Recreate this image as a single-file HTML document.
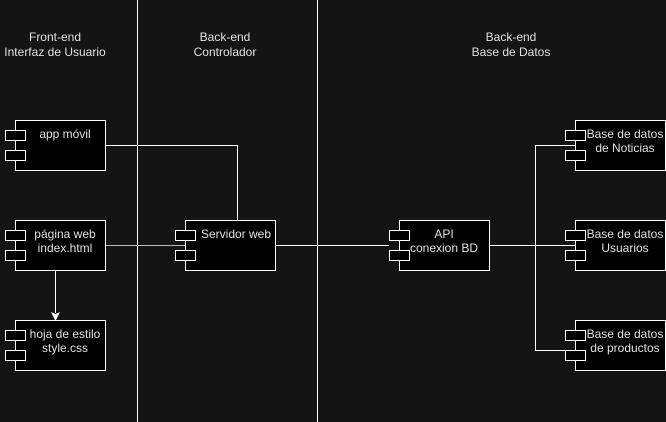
<!DOCTYPE html><html><head><style>html,body{margin:0;padding:0;background:#141414;overflow:hidden;width:666px;height:422px}svg{display:block}svg text{font-family:"Liberation Sans",sans-serif;font-size:12px;fill:#e0e0e0}</style></head><body>
<svg width="666" height="422" xmlns="http://www.w3.org/2000/svg">
<rect width="666" height="422" fill="#141414"/>
<g stroke="#fff" stroke-width="1" fill="none">
<line x1="137.5" y1="0" x2="137.5" y2="422"/>
<line x1="317.5" y1="0" x2="317.5" y2="422"/>
<polyline points="105,145.5 237.5,145.5 237.5,220"/>
<line x1="105" y1="245.5" x2="185" y2="245.5" stroke="#bbb"/>
<line x1="275" y1="245.5" x2="389" y2="245.5"/>
<line x1="489" y1="245.5" x2="575" y2="245.5"/>
<polyline points="575,145.5 535.5,145.5 535.5,350.5 575,350.5"/>
<line x1="55.5" y1="270" x2="55.5" y2="313"/>
</g>
<polygon points="51,312 55.5,321 60,312 55.5,314" fill="#fff"/>
<g stroke="#fff" stroke-width="1" fill="#000">
<rect x="15.5" y="120.5" width="90" height="50"/><rect x="5.5" y="130.5" width="20" height="10"/><rect x="5.5" y="150.5" width="20" height="10"/>
<rect x="15.5" y="220.5" width="90" height="50"/><rect x="5.5" y="230.5" width="20" height="10"/><rect x="5.5" y="250.5" width="20" height="10"/>
<rect x="15.5" y="320.5" width="90" height="50"/><rect x="5.5" y="330.5" width="20" height="10"/><rect x="5.5" y="350.5" width="20" height="10"/>
<rect x="185.5" y="220.5" width="90" height="50"/><rect x="175.5" y="230.5" width="20" height="10"/><rect x="175.5" y="250.5" width="20" height="10"/>
<rect x="399.5" y="220.5" width="90" height="50"/><rect x="389.5" y="230.5" width="20" height="10"/><rect x="389.5" y="250.5" width="20" height="10"/>
<rect x="575.5" y="120.5" width="90" height="50"/><rect x="565.5" y="130.5" width="20" height="10"/><rect x="565.5" y="150.5" width="20" height="10"/>
<rect x="575.5" y="220.5" width="90" height="50"/><rect x="565.5" y="230.5" width="20" height="10"/><rect x="565.5" y="250.5" width="20" height="10"/>
<rect x="575.5" y="320.5" width="90" height="50"/><rect x="565.5" y="330.5" width="20" height="10"/><rect x="565.5" y="350.5" width="20" height="10"/>
</g>
<g text-anchor="middle">
<text x="55" y="41">Front-end</text><text x="55" y="56">Interfaz de Usuario</text>
<text x="225" y="41">Back-end</text><text x="225" y="56">Controlador</text>
<text x="511" y="41">Back-end</text><text x="511" y="56">Base de Datos</text>
<text x="65" y="138">app móvil</text>
<text x="65" y="238">página web</text><text x="65" y="252">index.html</text>
<text x="65" y="338">hoja de estilo</text><text x="65" y="352">style.css</text>
<text x="236" y="238">Servidor web</text>
<text x="444" y="238">API</text><text x="444" y="252">conexion BD</text>
<text x="625" y="138">Base de datos</text><text x="625" y="152">de Noticias</text>
<text x="625" y="238">Base de datos</text><text x="625" y="252">Usuarios</text>
<text x="625" y="338">Base de datos</text><text x="625" y="352">de productos</text>
</g>
</svg></body></html>
